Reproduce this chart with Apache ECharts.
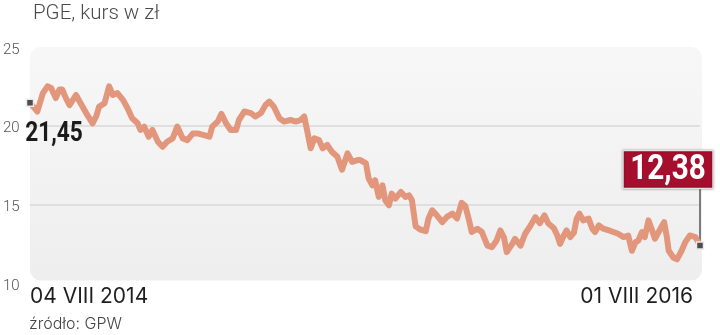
<!DOCTYPE html>
<html>
<head>
<meta charset="utf-8">
<script src="https://cdn.jsdelivr.net/npm/echarts@6/dist/echarts.min.js"></script>
<style>
html,body{margin:0;padding:0;background:#fff;}
#c{width:720px;height:335px;}
</style>
</head>
<body>
<div id="c"></div>
<script>
const titleText = 'PGE, kurs w zł';
const sourceText = 'źródło: GPW';
const xTickLabels = ['04 VIII 2014', '01 VIII 2016'];
const yTicks = [10, 15, 20, 25];

const dates = [
'2014-08-04','2014-08-12','2014-08-18','2014-08-23','2014-08-27','2014-09-01','2014-09-05','2014-09-08','2014-09-12','2014-09-16','2014-09-23','2014-09-28','2014-10-04','2014-10-11','2014-10-15','2014-10-18','2014-10-24','2014-10-29','2014-11-02','2014-11-07','2014-11-13','2014-11-18','2014-11-23','2014-11-29','2014-12-02','2014-12-06','2014-12-11','2014-12-15','2014-12-21','2014-12-26','2014-12-31',
'2015-01-06','2015-01-11','2015-01-17','2015-01-22','2015-01-28','2015-02-02','2015-02-09','2015-02-15','2015-02-18','2015-02-24','2015-02-28','2015-03-05','2015-03-10','2015-03-16','2015-03-19','2015-03-25','2015-04-01','2015-04-06','2015-04-12','2015-04-17','2015-04-21','2015-04-26','2015-05-02','2015-05-07','2015-05-14','2015-05-20','2015-05-25','2015-05-29','2015-06-01','2015-06-05','2015-06-09','2015-06-14','2015-06-18','2015-06-23','2015-06-28','2015-07-04','2015-07-09','2015-07-15','2015-07-20','2015-07-26','2015-07-29','2015-08-04','2015-08-07','2015-08-11','2015-08-14','2015-08-18','2015-08-22','2015-08-25','2015-08-29','2015-09-01','2015-09-05','2015-09-11','2015-09-16','2015-09-20','2015-09-23','2015-09-27','2015-10-02','2015-10-08','2015-10-11','2015-10-15','2015-10-20','2015-10-26','2015-10-31','2015-11-06','2015-11-11','2015-11-16','2015-11-20','2015-11-24','2015-11-27','2015-12-03','2015-12-08','2015-12-14','2015-12-19','2015-12-24','2015-12-28',
'2016-01-01','2016-01-04','2016-01-10','2016-01-13','2016-01-19','2016-01-24','2016-01-30','2016-02-04','2016-02-09','2016-02-14','2016-02-18','2016-02-24','2016-02-28','2016-03-02','2016-03-06','2016-03-09','2016-03-13','2016-03-17','2016-03-20','2016-03-23','2016-03-27','2016-04-02','2016-04-06','2016-04-09','2016-04-13','2016-04-18','2016-04-24','2016-04-29','2016-05-04','2016-05-10','2016-05-15','2016-05-19','2016-05-23','2016-05-26','2016-05-30','2016-06-02','2016-06-06','2016-06-10','2016-06-13','2016-06-19','2016-06-23','2016-06-26','2016-06-28','2016-07-03','2016-07-07','2016-07-12','2016-07-16','2016-07-21','2016-07-27','2016-08-01'
];

const prices = [
21.45,20.9,22.07,22.5,22.4,21.75,22.3,22.3,21.75,21.3,21.95,21.43,20.8,20.15,20.6,21.2,21.43,22.5,21.95,22.07,21.64,21.11,20.47,20.15,19.73,19.94,19.3,19.73,18.98,18.66,18.98,
19.19,19.94,19.19,19.08,19.51,19.51,19.4,19.3,19.94,20.26,20.75,20.15,19.73,19.73,20.36,20.9,20.8,20.58,20.8,21.32,21.53,21.2,20.47,20.26,20.36,20.26,20.36,20.58,19.73,18.56,19.19,19.08,18.56,18.77,18.34,18.02,17.2,18.24,17.7,17.81,17.81,17.6,16.64,16.21,16.53,15.47,16.21,15.26,14.94,15.68,15.36,15.79,15.47,15.57,15.26,13.6,13.4,13.3,14.1,14.62,14.3,13.87,14.2,14.41,14.1,15.1,14.9,14.0,13.24,13.45,13.24,12.38,12.28,12.7,13.34,
12.9,11.96,12.49,12.81,12.38,13.13,13.66,14.19,13.8,14.3,13.8,13.5,13.02,12.49,13.02,13.34,12.92,13.2,14.09,14.41,13.98,14.09,13.45,13.24,13.66,13.45,13.34,13.24,13.13,12.92,13.02,12.05,12.6,12.7,13.24,12.92,13.98,13.34,12.81,13.45,13.87,12.92,12.05,11.62,11.5,12.05,12.6,13.02,12.92,12.38
];

const fmtPL = v => v.toFixed(2).replace('.', ',');
const parseT = d => { const p = d.split('-').map(Number); return Date.UTC(p[0], p[1] - 1, p[2]); };
const times = dates.map(parseT);
const tMin = times[0];
const tMax = times[times.length - 1];
const last = dates.length - 1;

const chart = echarts.init(document.getElementById('c'), null, {renderer: 'canvas'});
chart.setOption({
  animation: false,
  backgroundColor: '#ffffff',
  title: [
    {text: titleText, left: 33, top: 3, padding: 0,
     textStyle: {fontFamily: 'Roboto', fontWeight: 300, fontSize: 20.5, color: '#4a4a4a'}},
    {text: sourceText, left: 29, top: 316, padding: 0,
     textStyle: {fontFamily: 'Inter', fontWeight: 300, fontSize: 16, color: '#444'}}
  ],
  grid: {left: 29, right: 20, top: 47, bottom: 52},
  xAxis: {
    type: 'value', min: tMin, max: tMax,
    axisLine: {show: false}, axisTick: {show: false}, splitLine: {show: false},
    axisLabel: {
      customValues: [tMin, tMax],
      showMinLabel: true, showMaxLabel: true,
      alignMinLabel: 'left', alignMaxLabel: 'right',
      formatter: function (v) {
        if (Math.abs(v - tMin) < 1000) return '{a|' + xTickLabels[0] + '}';
        if (Math.abs(v - tMax) < 1000) return '{b|' + xTickLabels[1] + '}';
        return '';
      },
      margin: 3,
      rich: {
        a: {fontFamily: 'Inter', fontSize: 21, color: '#1e1e1e'},
        b: {fontFamily: 'Inter', fontSize: 21, color: '#1e1e1e', padding: [0, 7, 0, 0]}
      }
    }
  },
  yAxis: {
    type: 'value', min: yTicks[0], max: yTicks[yTicks.length - 1], interval: 5,
    axisLine: {show: false}, axisTick: {show: false},
    splitLine: {show: true, lineStyle: {color: ['rgba(0,0,0,0)', '#d8d8d8', '#d8d8d8', 'rgba(0,0,0,0)'], width: 1.5}},
    axisLabel: {align: 'left', verticalAlign: 'top', lineHeight: 6, margin: 27,
                fontFamily: 'Roboto', fontWeight: 300, fontSize: 15, color: '#555'}
  },
  series: [{
    type: 'line',
    data: times.map((t, i) => [t, prices[i]]),
    showSymbol: false,
    z: 3,
    lineStyle: {color: '#e2977c', width: 6, cap: 'round', join: 'round'},
    markPoint: {
      silent: true, animation: false, label: {show: false},
      data: [
        {coord: [tMin, prices[0]], symbol: 'rect', symbolSize: 7,
         itemStyle: {color: '#4d4d4d', borderColor: '#e9e9e9', borderWidth: 1.5}},
        {coord: [tMax, prices[last]], symbol: 'rect', symbolSize: 7,
         itemStyle: {color: '#4d4d4d', borderColor: '#e9e9e9', borderWidth: 1.5}}
      ]
    }
  }]
});

const p0 = chart.convertToPixel({gridIndex: 0}, [tMin, yTicks[yTicks.length - 1]]);
const p1 = chart.convertToPixel({gridIndex: 0}, [tMax, yTicks[0]]);
const pS = chart.convertToPixel({gridIndex: 0}, [tMin, prices[0]]);
const pE = chart.convertToPixel({gridIndex: 0}, [tMax, prices[last]]);
chart.setOption({
  graphic: [
    {
      type: 'rect', z: -1, silent: true,
      shape: {x: p0[0], y: p0[1], width: p1[0] - p0[0] + 2, height: p1[1] - p0[1] - 2.5, r: 11},
      style: {fill: new echarts.graphic.LinearGradient(0, 0, 0, 1, [{offset: 0, color: '#f7f7f7'}, {offset: 1, color: '#eeeeef'}])}
    },
    {
      type: 'text', z: 20, silent: true,
      x: pS[0] + 24, y: pS[1] + 31, scaleX: 0.84,
      style: {text: fmtPL(prices[0]), align: 'center', verticalAlign: 'middle',
              font: 'bold 27px Roboto', fill: '#1a1a1a'}
    },
    {
      type: 'line', z: 1, silent: true,
      shape: {x1: pE[0], y1: pE[1] - 4, x2: pE[0], y2: pE[1] - 57},
      style: {stroke: '#555', lineWidth: 1.5}
    },
    {
      type: 'rect', z: 20, silent: true,
      shape: {x: pE[0] - 77, y: pE[1] - 95, width: 90, height: 38},
      style: {fill: '#a50e2d', stroke: '#e2e2e2', lineWidth: 1.5,
              shadowColor: 'rgba(0,0,0,0.3)', shadowBlur: 2}
    },
    {
      type: 'text', z: 21, silent: true,
      x: pE[0] - 32, y: pE[1] - 75, scaleX: 0.85,
      style: {text: fmtPL(prices[last]), align: 'center', verticalAlign: 'middle',
              font: 'bold 35px Roboto', fill: '#ffffff'}
    }
  ]
});
</script>
</body>
</html>
